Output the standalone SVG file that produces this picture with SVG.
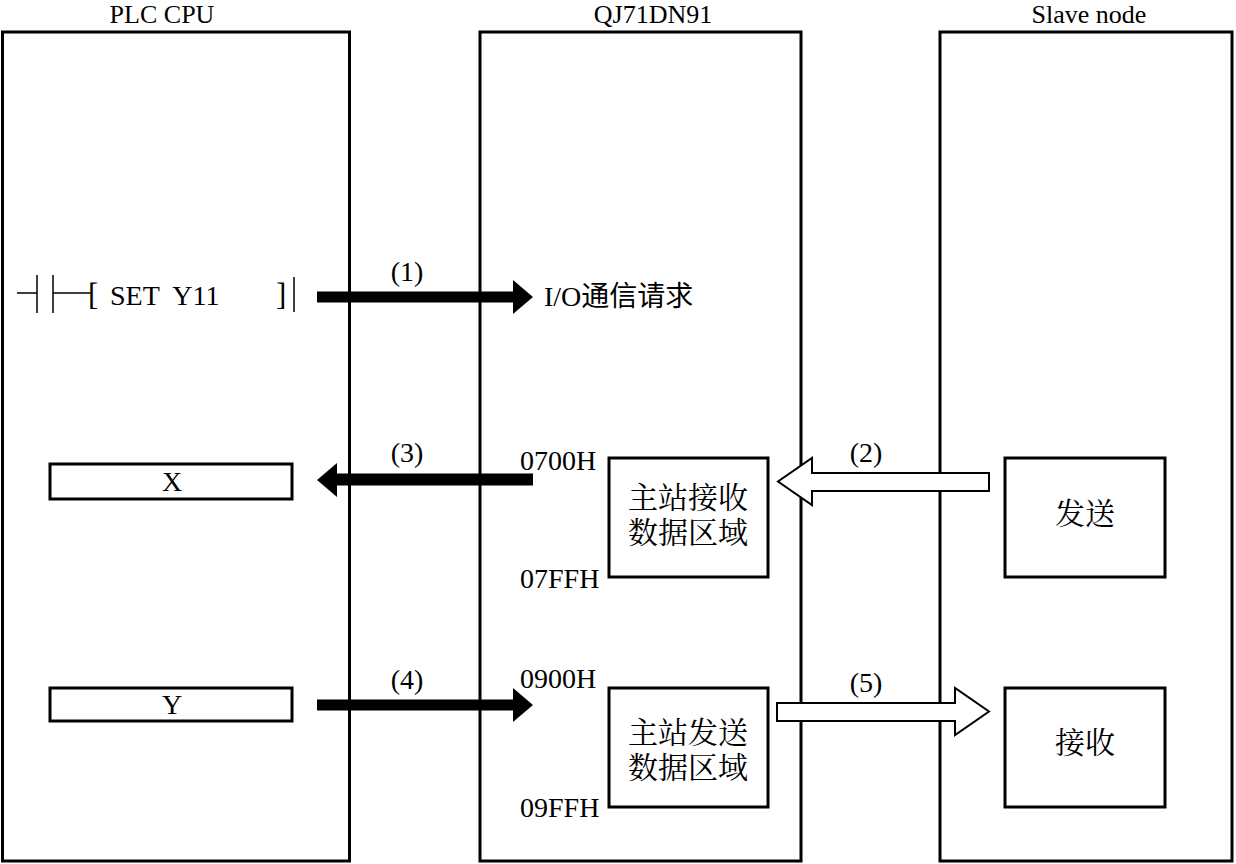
<svg xmlns="http://www.w3.org/2000/svg" width="1236" height="864" viewBox="0 0 1236 864">
<style>
.t{font-family:"Liberation Serif","Noto Sans CJK SC",serif;font-size:28px;fill:#000}
.h{font-family:"Liberation Serif",serif;font-size:26px;fill:#000;text-anchor:middle}
.c{font-family:"Liberation Serif","Noto Serif CJK SC","Noto Sans CJK SC",serif;font-size:30px;fill:#000}
.m{text-anchor:middle}
.col{fill:#fff;stroke:#000;stroke-width:3}
.box{fill:#fff;stroke:#000;stroke-width:3}
.ln{stroke:#000;stroke-width:1.5;fill:none}
.blk{fill:#000;stroke:none}
.hol{fill:#fff;stroke:#000;stroke-width:2}
</style>
<rect width="1236" height="864" fill="#fff"/>
<g id="plc">
<rect class="col" x="2.5" y="32" width="347" height="829"/>
<text class="h" x="162" y="23">PLC CPU</text>
</g>
<g id="qj">
<rect class="col" x="480" y="32" width="321" height="829"/>
<text class="h" x="653" y="23">QJ71DN91</text>
</g>
<g id="slave">
<rect class="col" x="940" y="32" width="292" height="829"/>
<text class="h" x="1089" y="23">Slave node</text>
</g>
<g id="ladder">
<path class="ln" d="M17 293H37M37 275V313M53 275V313M53 293H92M294 277V312"/>
<text class="t" x="88" y="305" style="font-size:31px">[</text>
<text class="t" x="110" y="305" xml:space="preserve">SET  Y11</text>
<text class="t" x="276" y="305" style="font-size:31px">]</text>
</g>
<g id="xbox">
<rect class="box" x="50" y="464" width="242" height="35"/>
<text class="t m" x="172" y="491">X</text>
</g>
<g id="ybox">
<rect class="box" x="50" y="688" width="242" height="33"/>
<text class="t m" x="172" y="714">Y</text>
</g>
<g id="ioreq">
<text class="t" x="544" y="306">I/O通信请求</text>
</g>
<g id="recvarea">
<rect class="box" x="609" y="458" width="159" height="119"/>
<text class="c m" x="688" y="508">主站接收</text>
<text class="c m" x="688" y="543">数据区域</text>
<text class="t" x="520" y="470">0700H</text>
<text class="t" x="520" y="588">07FFH</text>
</g>
<g id="sendarea">
<rect class="box" x="609" y="688" width="159" height="119"/>
<text class="c m" x="688" y="743">主站发送</text>
<text class="c m" x="688" y="778">数据区域</text>
<text class="t" x="520" y="688">0900H</text>
<text class="t" x="520" y="817">09FFH</text>
</g>
<g id="slavesend">
<rect class="box" x="1005" y="458" width="160" height="119"/>
<text class="c m" x="1085" y="524">发送</text>
</g>
<g id="slaverecv">
<rect class="box" x="1005" y="688" width="160" height="119"/>
<text class="c m" x="1085" y="753">接收</text>
</g>
<g id="connectors">
<polygon class="blk" points="317,291.5 513,291.5 513,280 533,297 513,314 513,302.5 317,302.5"/>
<text class="t m" x="407" y="281">(1)</text>
<polygon class="blk" points="533,473.5 337,473.5 337,463 317,480 337,497 337,485.5 533,485.5"/>
<text class="t m" x="407" y="462">(3)</text>
<polygon class="blk" points="317,699.5 513,699.5 513,688 533,705 513,722 513,710.5 317,710.5"/>
<text class="t m" x="407" y="689">(4)</text>
<polygon class="hol" points="989,473 812,473 812,458 778,481.5 812,505 812,491 989,491"/>
<text class="t m" x="866" y="462">(2)</text>
<polygon class="hol" points="777,703 955,703 955,688 989,711.5 955,735 955,721 777,721"/>
<text class="t m" x="866" y="692">(5)</text>
</g>
</svg>
